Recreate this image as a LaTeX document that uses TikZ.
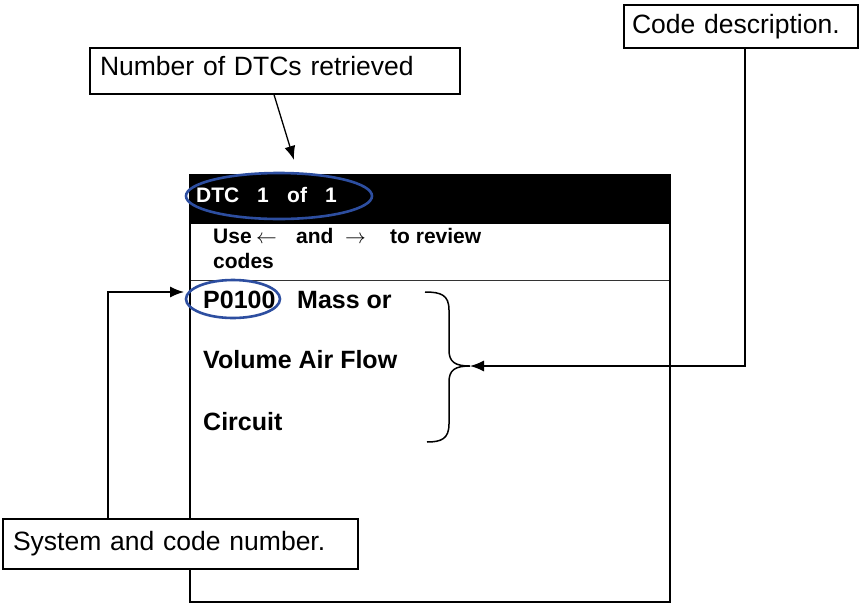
\documentclass[tikz,border=0pt]{standalone}
\usepackage{fontspec}
\setmainfont{Liberation Sans}
\usetikzlibrary{arrows.meta}
\definecolor{markblue}{RGB}{45,78,160}
\begin{document}
\begin{tikzpicture}[x=1pt,y=-1pt,
  callout/.style={draw=black,line width=1.2pt,fill=white,align=left,
    font=\fontsize{26.5}{30}\selectfont,anchor=center,inner ysep=0pt},
  pointer/.style={line width=1.3pt,-{Latex[length=14pt,width=11pt]}},
  lcd/.style={font=\bfseries\fontsize{25}{28}\selectfont,anchor=base west,inner sep=0pt},
  lcdsmall/.style={font=\bfseries\fontsize{21}{24}\selectfont,anchor=base west,inner sep=0pt},
  ring/.style={draw=markblue,line width=2.6pt}]
\useasboundingbox (0,0) rectangle (860,603);

% handheld screen
\fill[white] (190,175) rectangle (670,602);
\fill[black] (190,175) rectangle (670,224);
\draw[line width=0.9pt,black!80] (190,280) -- (670,280);
\draw[line width=1.8pt] (190,175) rectangle (670,602);
\draw[line width=2.8pt] (190,175) -- (190,602);

% header line
\node[lcdsmall,text=white] (h1) at (196,202) {DTC};
\node[lcdsmall,text=white] (h2) at (257,202) {1};
\node[lcdsmall,text=white] (h3) at (287,202) {of};
\node[lcdsmall,text=white] (h4) at (325,202) {1};

% instruction line
\node[lcdsmall] (u1) at (213,243) {Use};
\node[lcdsmall,font=\fontsize{21}{24}\selectfont] (u2) at (256,243) {$\leftarrow$};
\node[lcdsmall] (u3) at (296,243) {and};
\node[lcdsmall,font=\fontsize{21}{24}\selectfont] (u4) at (345,243) {$\rightarrow$};
\node[lcdsmall] (u5) at (390,243) {to review};
\node[lcdsmall] (u6) at (213,268) {codes};

% code and description
\node[lcd] (code) at (203,308) {P0100};
\node[lcd] (d1) at (297,308) {Mass or};
\node[lcd] (d2) at (203,368) {Volume Air Flow};
\node[lcd] (d3) at (203,430) {Circuit};

% highlight rings
\draw[ring] (279,196) ellipse [x radius=93,y radius=23];
\draw[ring] (233,299) ellipse [x radius=47,y radius=19];

% brace around the description
\coordinate (bracetip) at (470,366);
\draw[line width=1.5pt] (425,292) .. controls (441,292) and (449,295) .. (449,310)
  -- (449,350) .. controls (449,362) and (455,366) .. (bracetip)
  .. controls (455,366) and (449,370) .. (449,382)
  -- (449,424) .. controls (449,439) and (441,442) .. (427,442);

% callout boxes
\node[callout,minimum width=370pt,minimum height=46pt,text width=350pt,text depth=10pt] (numbox) at (275,71) {Number of DTCs retrieved};
\node[callout,minimum width=234pt,minimum height=43pt,text width=218pt] (descbox) at (741,26.5) {Code description.};

% connectors
\coordinate (numtip) at (294,160);
\draw[pointer] (numbox.south -| 274,0) -- (numtip);
\draw[pointer] (descbox.south -| 745,0) -- (745,366) -- (bracetip);

\node[callout,minimum width=355pt,minimum height=50pt,text width=335pt] (sysbox) at (180.5,544) {System and code number.};
\coordinate (codetip) at (184,292);
\draw[pointer] (sysbox.north -| 108,0) -- (108,292) -- (codetip);
\end{tikzpicture}
\end{document}
